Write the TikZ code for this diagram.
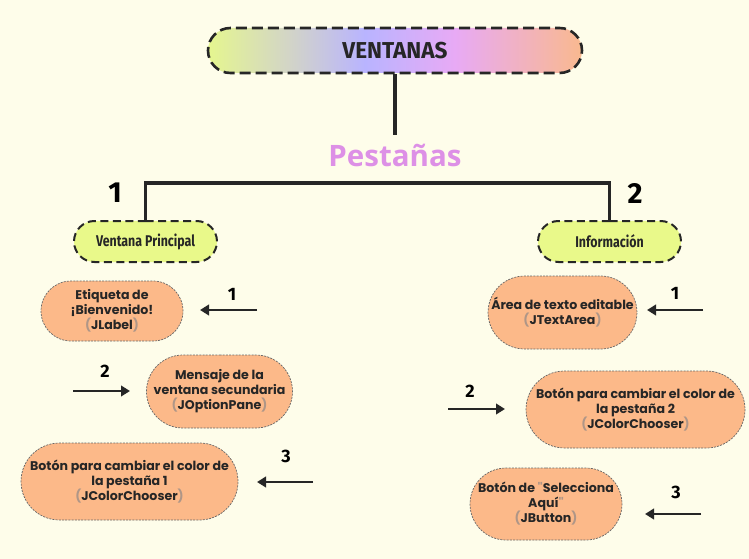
\documentclass[tikz,border=0pt]{standalone}
\usepackage{fontspec}
\usepackage{graphicx}
\setmainfont{Poppins}
\newfontfamily\titlefont{Open Sans}
\newfontfamily\numfont{Fira Sans}
\newfontfamily\condfont{Fira Sans}
\usetikzlibrary{shapes.misc,arrows.meta}
\definecolor{bg}{RGB}{254,253,234}
\definecolor{ink}{RGB}{38,38,38}
\definecolor{yel}{RGB}{233,249,138}
\definecolor{ora}{RGB}{252,185,137}
\definecolor{pest}{RGB}{221,144,230}
\definecolor{pale}{RGB}{175,150,135}
\definecolor{gA}{RGB}{229,246,143}
\definecolor{gB}{RGB}{210,212,200}
\definecolor{gC}{RGB}{185,180,255}
\definecolor{gD}{RGB}{232,170,245}
\definecolor{gE}{RGB}{249,185,143}
\pgfdeclarehorizontalshading{vent}{100bp}{color(0bp)=(gA); color(25bp)=(gA); color(36bp)=(gB); color(46bp)=(gC); color(58bp)=(gD); color(75bp)=(gE); color(100bp)=(gE)}
\tikzset{
  ventbox/.style={rounded rectangle, shading=vent, draw=ink, line width=2.6pt,
    dash pattern=on 11pt off 5pt, minimum width=374pt, minimum height=45pt, inner sep=0pt,
    font=\condfont\fontsize{23}{23}\selectfont, text=ink},
  subbox/.style={rounded rectangle, fill=yel, draw=ink, line width=2pt,
    dash pattern=on 8pt off 4.5pt, minimum width=143pt, minimum height=41pt, inner sep=0pt,
    font=\condfont\fontsize{15.5}{15.5}\selectfont, text=ink},
  itembox/.style={rounded rectangle, fill=ora, draw=ink!70, line width=0.7pt,
    dash pattern=on 2pt off 1.2pt, inner sep=0pt, align=center,
    font=\bfseries\fontsize{12.6}{15}\selectfont, text=ink},
  conn/.style={draw=ink, line width=3.6pt},
  arr/.style={draw=ink, line width=2.8pt, -{Triangle[length=9pt,width=10.5pt]}},
  bignum/.style={font=\numfont\bfseries\fontsize{29}{29}\selectfont, text=black},
  smallnum/.style={font=\numfont\bfseries\fontsize{18}{18}\selectfont, text=black},
}
\newcommand{\pp}[1]{\textcolor{pale}{(}#1\textcolor{pale}{)}}
\begin{document}
\begin{tikzpicture}[x=1pt,y=-1pt]
\useasboundingbox (0,0) rectangle (749,559);
\fill[bg] (0,0) rectangle (749,559);

\node[ventbox] (vent) at (395,50.5) {\scalebox{0.98}[1]{\bfseries VENTANAS}};
\node[font=\titlefont\bfseries\fontsize{29.5}{29.5}\selectfont, text=pest, inner sep=8pt] (pest) at (395,155) {Pestañas};
\draw[conn] (vent.south) -- (pest.north);

\node[subbox] (vp) at (145.5,241.5) {\scalebox{0.8}[1]{\bfseries Ventana Principal}};
\node[subbox] (info) at (609.5,241.5) {\scalebox{0.8}[1]{\bfseries Información}};
\coordinate (bar) at (145.5,183);
\draw[conn] (vp.north) -- (bar) -| (info.north);

\node[bignum] (n1) at (115,193) {1};
\node[bignum] (n2) at (635,193) {2};

% left column
\node[itembox, minimum width=142pt, minimum height=60pt] (eti) at (112,311)
  {Etiqueta de\\¡Bienvenido!\\\pp{JLabel}};
\node[itembox, minimum width=141pt, minimum height=73pt] (men) at (219.5,391.5)
  {Mensaje de la\\ventana secundaria\\\pp{JOptionPane}};
\node[itembox, minimum width=217pt, minimum height=77pt] (bot1) at (129.5,481.5)
  {Botón para cambiar el color de\\la pestaña 1\\\pp{JColorChooser}};

% right column
\node[itembox, minimum width=143pt, minimum height=73pt] (area) at (562.5,312.5)
  {Área de texto editable\\\pp{JTextArea}};
\node[itembox, minimum width=219pt, minimum height=77pt] (bot2) at (635.5,409.5)
  {Botón para cambiar el color de\\la pestaña 2\\\pp{JColorChooser}};
\node[itembox, minimum width=152pt, minimum height=72pt] (sel) at (546,504)
  {Botón de \textcolor{pale}{\textquotedbl}Selecciona\\Aquí\textcolor{pale}{\textquotedbl}\\\pp{JButton}};

% arrows
\coordinate (a1s) at (257,310); \coordinate (a1e) at (200,310);
\coordinate (a2s) at (73,391);  \coordinate (a2e) at (130,391);
\coordinate (a3s) at (313,482); \coordinate (a3e) at (257,482);
\coordinate (b1s) at (703,310); \coordinate (b1e) at (647,310);
\coordinate (b2s) at (448,409); \coordinate (b2e) at (505,409);
\coordinate (b3s) at (701,514); \coordinate (b3e) at (645,514);
\draw[arr] (a1s) -- (a1e);
\draw[arr] (a2s) -- (a2e);
\draw[arr] (a3s) -- (a3e);
\draw[arr] (b1s) -- (b1e);
\draw[arr] (b2s) -- (b2e);
\draw[arr] (b3s) -- (b3e);
\node[smallnum] (l1) at (232,294) {1};
\node[smallnum] (l2) at (105,371) {2};
\node[smallnum] (l3) at (286,456) {3};
\node[smallnum] (r1) at (675,293) {1};
\node[smallnum] (r2) at (470,391) {2};
\node[smallnum] (r3) at (676,492) {3};
\end{tikzpicture}
\end{document}
